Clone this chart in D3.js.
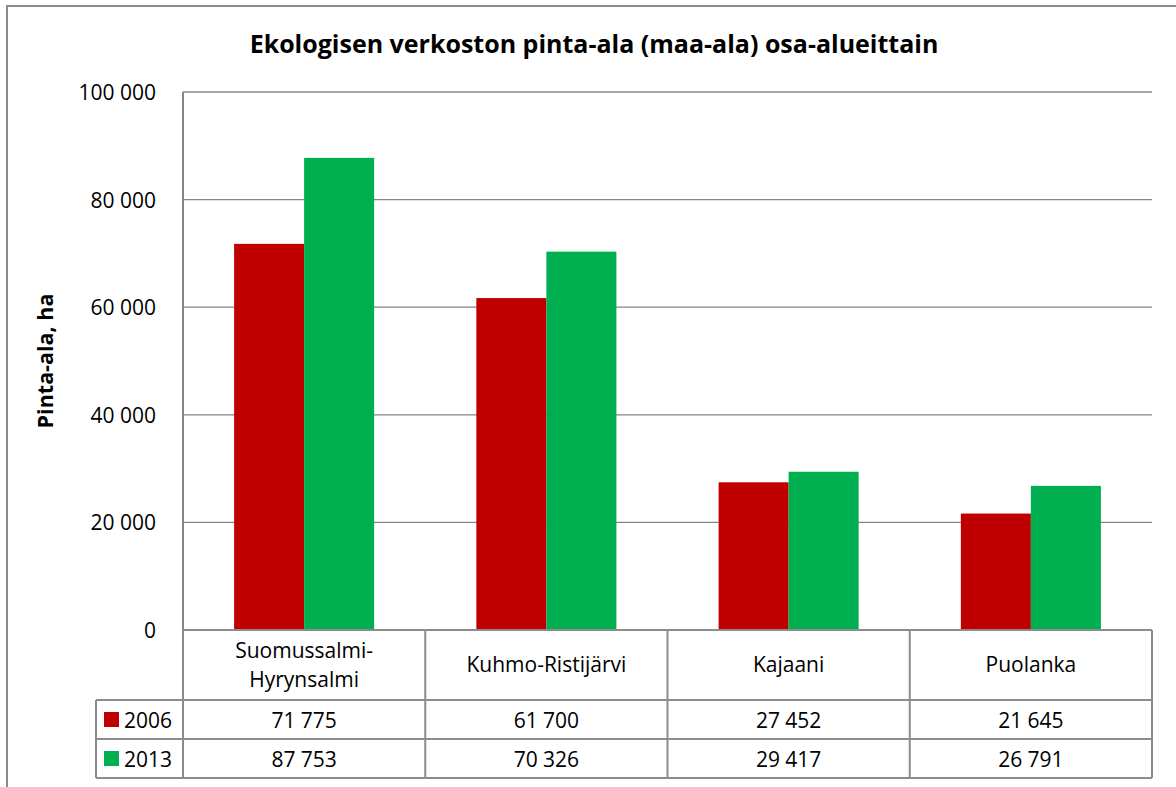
<!DOCTYPE html>
<html>
<head>
<meta charset="utf-8">
<script src="https://cdn.jsdelivr.net/npm/d3@7"></script>
<style>
  body { margin: 0; background: #fff; }
  text { font-family: "Open Sans", "Liberation Sans", sans-serif; fill: #000; }
</style>
</head>
<body>
<script>
// data
var categories = ["Suomussalmi-\nHyrynsalmi", "Kuhmo-Ristijärvi", "Kajaani", "Puolanka"];
var seriesNames = ["2006", "2013"];
var values2006 = [71775, 61700, 27452, 21645];
var values2013 = [87753, 70326, 29417, 26791];
var yTicks = [0, 20000, 40000, 60000, 80000, 100000];
var colors = ["#C00000", "#00B050"];

var w = 1176, h = 787;
var plotL = 183, plotR = 1152, plotT = 92, plotB = 630;
var fs = "21px";

var svg = d3.select("body").append("svg")
    .attr("width", w).attr("height", h);

// outer frame
svg.append("rect")
    .attr("x", 7).attr("y", 6)
    .attr("width", 1200).attr("height", 820)
    .style("fill", "none").style("stroke", "#8c8c8c").style("stroke-width", 2);

// title
svg.append("text")
    .attr("x", 594).attr("y", 53)
    .attr("text-anchor", "middle")
    .style("font-size", "25px").style("font-weight", "bold")
    .text("Ekologisen verkoston pinta-ala (maa-ala) osa-alueittain");

var x = d3.scaleBand().domain(d3.range(categories.length)).range([plotL, plotR]);
var xs = d3.scaleBand().domain(seriesNames).range([0, x.bandwidth()]).paddingInner(0).paddingOuter(0.73);
var y = d3.scaleLinear().domain([0, 100000]).range([plotB, plotT]);

var fmt = function (v) { return d3.format(",")(v).replace(/,/g, " "); };

// gridlines
svg.append("g").selectAll("line")
    .data(yTicks.filter(function (d) { return d > 0; }))
    .enter().append("line")
    .attr("x1", plotL).attr("x2", plotR)
    .attr("y1", function (d) { return y(d); }).attr("y2", function (d) { return y(d); })
    .style("stroke", "#868686").style("stroke-width", 1.3);

// y tick labels
svg.append("g").selectAll("text")
    .data(yTicks)
    .enter().append("text")
    .attr("x", 156)
    .attr("y", function (d) { return y(d) + 8; })
    .attr("text-anchor", "end")
    .style("font-size", fs)
    .text(fmt);

// y title
svg.append("text")
    .attr("transform", "translate(53," + (plotT + plotB) / 2 + ") rotate(-90)")
    .attr("text-anchor", "middle")
    .style("font-size", "21.5px").style("font-weight", "bold")
    .text("Pinta-ala, ha");

// bars
var series = [values2006, values2013];
var grp = svg.append("g").selectAll("g")
    .data(series)
    .enter().append("g")
    .style("fill", function (d, i) { return colors[i]; });

grp.selectAll("rect")
    .data(function (d, i) { return d.map(function (v, j) { return { v: v, s: seriesNames[i], c: j }; }); })
    .enter().append("rect")
    .attr("x", function (d) { return x(d.c) + xs(d.s); })
    .attr("width", xs.bandwidth())
    .attr("y", function (d) { return y(d.v); })
    .attr("height", function (d) { return plotB - y(d.v); });

// y axis line
svg.append("line")
    .attr("x1", plotL).attr("x2", plotL).attr("y1", plotT).attr("y2", plotB)
    .style("stroke", "#868686").style("stroke-width", 2);

// data table
var row0 = 630, row1 = 700, row2 = 739, row3 = 778, tableLeft = 96;
var gridColor = "#8c8c8c";
var tg = svg.append("g").style("stroke", gridColor).style("stroke-width", 2).style("fill", "none");

tg.append("line").attr("x1", plotL).attr("x2", plotR).attr("y1", row0).attr("y2", row0);
[row1, row2, row3].forEach(function (r) {
    tg.append("line").attr("x1", tableLeft).attr("x2", plotR).attr("y1", r).attr("y2", r);
});
tg.append("line").attr("x1", tableLeft).attr("x2", tableLeft).attr("y1", row1).attr("y2", row3);
tg.selectAll(".v")
    .data(d3.range(categories.length + 1))
    .enter().append("line")
    .attr("x1", function (d) { return d < categories.length ? x(d) : plotR; })
    .attr("x2", function (d) { return d < categories.length ? x(d) : plotR; })
    .attr("y1", row0).attr("y2", row3);

// category labels
svg.append("g").selectAll("text")
    .data(categories)
    .enter().append("text")
    .attr("text-anchor", "middle")
    .style("font-size", fs)
    .each(function (d, i) {
        var lines = d.split("\n");
        var cx = x(i) + x.bandwidth() / 2;
        var cy = (row0 + row1) / 2 + 7 - (lines.length - 1) * 14.5;
        var t = d3.select(this);
        lines.forEach(function (l, k) {
            t.append("tspan").attr("x", cx).attr("y", cy + k * 29).text(l);
        });
    });

// value rows + legend keys
var rowsY = [row1, row2];
series.forEach(function (vals, si) {
    var mid = (rowsY[si] + (si === 0 ? row2 : row3)) / 2;
    svg.append("rect")
        .attr("x", 104).attr("y", mid - 7.5)
        .attr("width", 15).attr("height", 15)
        .style("fill", colors[si]);
    svg.append("text")
        .attr("x", 124).attr("y", mid + 8)
        .style("font-size", fs)
        .text(seriesNames[si]);
    svg.append("g").selectAll("text")
        .data(vals)
        .enter().append("text")
        .attr("x", function (d, i) { return x(i) + x.bandwidth() / 2; })
        .attr("y", mid + 8)
        .attr("text-anchor", "middle")
        .style("font-size", fs)
        .text(fmt);
});
</script>
</body>
</html>
